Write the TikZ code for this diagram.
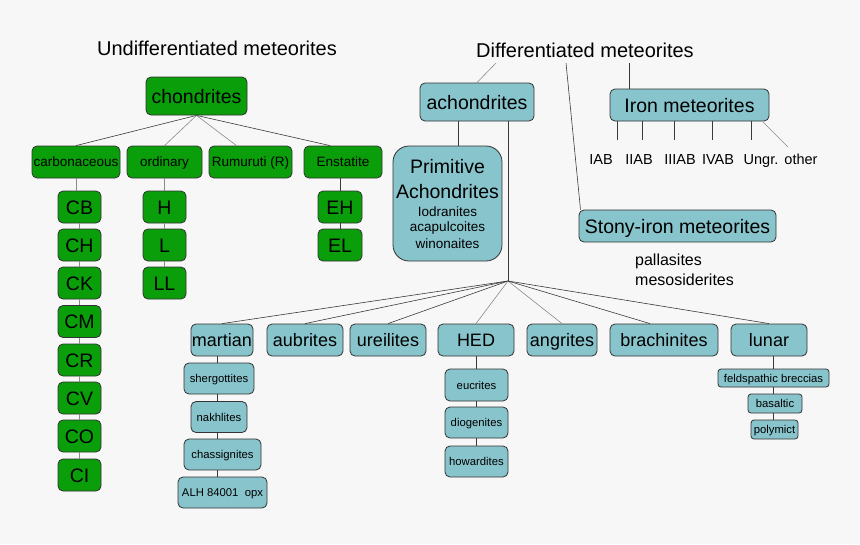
\documentclass[tikz,border=0pt]{standalone}
\usepackage{fontspec}
\setmainfont{Liberation Sans}
\definecolor{bgc}{HTML}{F7F7F7}
\definecolor{grn}{HTML}{0A9E0A}
\definecolor{teal}{HTML}{88C4CC}
\definecolor{edge}{HTML}{333333}
\definecolor{lnk}{HTML}{3A3A3A}
\definecolor{lnkl}{HTML}{8A8A8A}
\tikzset{
  box/.style={draw=edge, line width=0.8pt, rounded corners=5pt, inner sep=0pt, align=center},
  gbox/.style={box, fill=grn},
  tbox/.style={box, fill=teal},
  big/.style={font=\fontsize{19.5}{22}\selectfont, text height=14pt, text depth=0pt},
  row/.style={font=\fontsize{18}{21}\selectfont, text height=12.9pt, text depth=0pt},
  mid/.style={font=\fontsize{13.5}{16}\selectfont, text height=9.7pt, text depth=0pt},
  small/.style={font=\fontsize{11.3}{13}\selectfont, text height=8.1pt, text depth=0pt},
  ptext/.style={inner sep=0pt},
  lab/.style={font=\fontsize{16}{19}\selectfont, inner sep=0pt},
  ilab/.style={font=\fontsize{14.5}{17}\selectfont, inner sep=0pt, anchor=base},
  link/.style={draw=lnk, line width=0.6pt},
  linkl/.style={draw=lnkl, line width=0.6pt},
}
\begin{document}
\begin{tikzpicture}[x=1pt,y=-1pt]
\fill[bgc] (0,0) rectangle (860,544);
\useasboundingbox (0,0) rectangle (860,544);

% titles
\node[font=\fontsize{20}{23}\selectfont, inner sep=0pt] (um) at (217,48) {Undifferentiated meteorites};
\node[font=\fontsize{20}{23}\selectfont, inner sep=0pt] (dm) at (585,50) {Differentiated meteorites};

% chondrites tree
\node[gbox, big, minimum width=101, minimum height=38] (chon) at (196.5,96) {chondrites};
\node[gbox, mid, minimum width=88, minimum height=32] (carb) at (76,162) {carbonaceous};
\node[gbox, mid, minimum width=75, minimum height=32] (ord) at (164.5,162) {ordinary};
\node[gbox, mid, minimum width=83, minimum height=32] (rum) at (250.5,162) {Rumuruti (R)};
\node[gbox, mid, minimum width=78, minimum height=32] (ens) at (343,162) {Enstatite};

\draw[link] (chon.south) -- (carb.north);
\draw[linkl] (chon.south) -- (ord.north);
\draw[linkl] (chon.south) -- ([xshift=-14pt]rum.north);
\draw[link] (chon.south) -- ([xshift=-13pt]ens.north);

\foreach \n/\y in {CB/207,CH/245,CK/283,CM/321.5,CR/360,CV/398,CO/436,CI/475}{
  \node[gbox, big, minimum width=43, minimum height=32] (\n) at (79.5,\y) {\n};
}
\foreach \n/\y in {H/207,L/245,LL/283}{
  \node[gbox, big, minimum width=43, minimum height=32] (o\n) at (164.5,\y) {\n};
}
\foreach \n/\y in {EH/207,EL/245}{
  \node[gbox, big, minimum width=44, minimum height=32] (\n) at (340,\y) {\n};
}
\draw[linkl] (carb.south) -- (carb.south |- CB.north);
\foreach \a/\b in {CB/CH,CH/CK,CK/CM,CM/CR,CR/CV,CV/CO,CO/CI}{
  \draw[linkl] (\a.south) -- (\b.north);
}
\draw[linkl] (ord.south) -- (oH.north);
\draw[linkl] (oH.south) -- (oL.north);
\draw[linkl] (oL.south) -- (oLL.north);
\draw[link] (ens.south -| EH.north) -- (EH.north);
\draw[link] (EH.south) -- (EL.north);

% achondrites
\node[tbox, big, minimum width=114, minimum height=38] (achon) at (477,102) {achondrites};
\coordinate (d1) at (496,63);
\draw[linkl] (d1) -- (achon.north);

\node[tbox, rounded corners=16pt, minimum width=109, minimum height=115] (prim) at (447.5,203.5) {};
\node[ptext, font=\fontsize{19.5}{22}\selectfont] (p1) at (447.5,167) {Primitive};
\node[ptext, font=\fontsize{19.5}{22}\selectfont] (p2) at (447.5,192) {Achondrites};
\node[ptext, font=\fontsize{13.5}{16}\selectfont] (p3) at (447.5,212) {Iodranites};
\node[ptext, font=\fontsize{13.5}{16}\selectfont] (p4) at (447.5,228) {acapulcoites};
\node[ptext, font=\fontsize{13.5}{16}\selectfont] (p5) at (447.5,244) {winonaites};
\coordinate (pa) at (458,121);
\draw[link] (pa) -- (pa |- prim.north);

\coordinate (hub) at (508,281);
\draw[link] (hub |- achon.south) -- (hub);

% stony-iron
\coordinate (d2) at (566,63);
\node[tbox, big, minimum width=197, minimum height=32] (stony) at (677.5,226) {Stony-iron meteorites};
\draw[link] (d2) -- ([xshift=-97pt]stony.north);
\node[lab, anchor=west] (pal) at (635,261) {pallasites};
\node[lab, anchor=west] (meso) at (635,280) {mesosiderites};

% iron
\coordinate (d3) at (629,63);
\node[tbox, big, minimum width=159, minimum height=32] (iron) at (689.5,105) {Iron meteorites};
\draw[link] (d3) -- (d3 |- iron.north);
\foreach \x in {617,642,674,712,751}{
  \draw[link] (\x,121) -- (\x,140);
}
\coordinate (i6) at (763,122);
\coordinate (i7) at (788,147);
\draw[linkl] (i6) -- (i7);
\node[ilab] (iab) at (601,164.5) {IAB};
\node[ilab] (iiab) at (639,164.5) {IIAB};
\node[ilab] (iiiab) at (680,164.5) {IIIAB};
\node[ilab] (ivab) at (718,164.5) {IVAB};
\node[ilab] (ungr) at (761,164.5) {Ungr.};
\node[ilab] (oth) at (801,164.5) {other};

% bottom row
\node[tbox, row, minimum width=62, minimum height=32] (mart) at (222,340) {martian};
\node[tbox, row, minimum width=76, minimum height=32] (aub) at (305,340) {aubrites};
\node[tbox, row, minimum width=76, minimum height=32] (ure) at (388,340) {ureilites};
\node[tbox, row, minimum width=76, minimum height=32] (hed) at (476,340) {HED};
\node[tbox, row, minimum width=70, minimum height=32] (ang) at (562,340) {angrites};
\node[tbox, row, minimum width=108, minimum height=32] (bra) at (664,340) {brachinites};
\node[tbox, row, minimum width=76, minimum height=32] (lun) at (769,340) {lunar};

\draw[link] (hub) -- (mart.north);
\draw[link] (hub) -- (aub.north);
\draw[link] (hub) -- (ure.north);
\draw[linkl] (hub) -- (hed.north);
\draw[linkl] (hub) -- (ang.north);
\draw[link] (hub) -- ([xshift=-14pt]bra.north);
\draw[link] (hub) -- (lun.north);

% martian sub
\node[tbox, small, minimum width=70, minimum height=31] (sher) at (219,378.5) {shergottites};
\node[tbox, small, minimum width=56, minimum height=31] (nak) at (219,417) {nakhlites};
\node[tbox, small, minimum width=77, minimum height=31] (chas) at (222.5,454.5) {chassignites};
\node[tbox, small, minimum width=89, minimum height=31] (alh) at (222.5,492.5) {ALH 84001\ \ opx};
\coordinate (mx) at (217,0);
\draw[link] (mart.south -| mx) -- (sher.north -| mx);
\draw[link] (sher.south -| mx) -- (nak.north -| mx);
\draw[link] (nak.south -| mx) -- (chas.north -| mx);
\draw[link] (chas.south -| mx) -- (alh.north -| mx);

% HED sub
\node[tbox, small, minimum width=63, minimum height=32] (euc) at (476.5,385) {eucrites};
\node[tbox, small, minimum width=63, minimum height=31] (dio) at (476.5,422.5) {diogenites};
\node[tbox, small, minimum width=63, minimum height=31] (how) at (476.5,461.5) {howardites};
\draw[link] (hed.south) -- (hed.south |- euc.north);
\draw[link] (euc.south) -- (dio.north);
\draw[link] (dio.south) -- (how.north);

% lunar sub
\node[tbox, small, rounded corners=3pt, minimum width=111, minimum height=18] (feld) at (773.5,378) {feldspathic breccias};
\node[tbox, small, rounded corners=3pt, minimum width=54, minimum height=19] (bas) at (775,403.5) {basaltic};
\node[tbox, small, rounded corners=3pt, minimum width=47, minimum height=19] (poly) at (774.5,429.5) {polymict};
\draw[link] (lun.south -| feld.north) -- (feld.north);
\draw[link] (feld.south) -- (feld.south |- bas.north);
\draw[link] (bas.south -| feld.south) -- (feld.south |- poly.north);
\end{tikzpicture}
\end{document}
